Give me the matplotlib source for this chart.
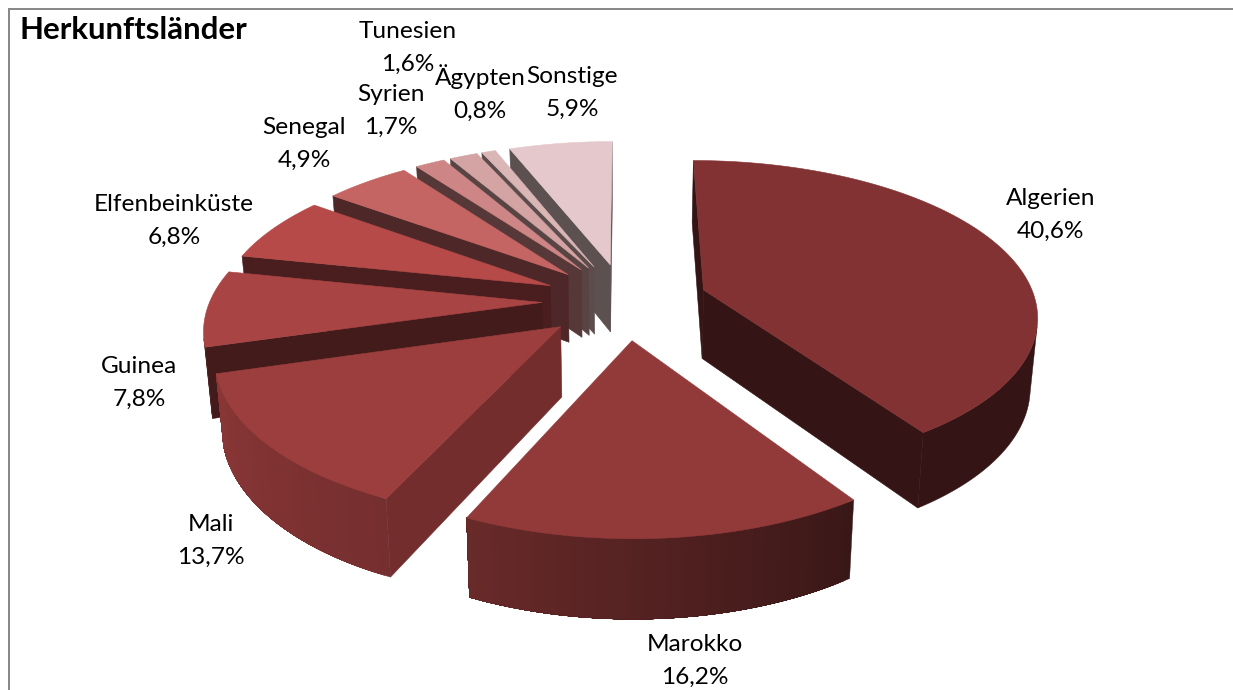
import numpy as np
import matplotlib
matplotlib.use("Agg")
import matplotlib.pyplot as plt
from matplotlib.patches import Polygon

countries = ["Algerien", "Marokko", "Mali", "Guinea", "Elfenbeinküste",
             "Senegal", "Syrien", "Tunesien", "Ägypten", "Sonstige"]
shares = [40.6, 16.2, 13.7, 7.8, 6.8, 4.9, 1.7, 1.6, 0.8, 5.9]
title = "Herkunftsländer"

# styles
top_colors = ["#823232", "#923a3a", "#9d3e3e", "#a84444", "#b54a48",
              "#c46563", "#ce8585", "#d4a3a3", "#dbb6b6", "#e5c8cb"]
wall_shade = [0.40, 0.40, 0.73, 0.40, 0.41, 0.40, 0.42, 0.42, 0.42, 0.40]
arc_shade = [(0.40, 0.40), (0.40, 0.72), (0.75, 0.88), (0.42, 0.42), (0.41, 0.41),
             (0.40, 0.40), (0.42, 0.42), (0.42, 0.42), (0.42, 0.42), (0.40, 0.40)]
draw_order = [0, 9, 8, 7, 6, 5, 4, 3, 2, 1]
label_pos = [(1051, 215), (695, 661), (211, 541), (139, 383), (174, 221),
             (304, 144), (391, 111), (408, 48), (480, 93), (572, 93)]
EXPLODE = 0.25
CX, CY, A, B, K, KX, D = 625, 301, 332, 153, 0.157, 0.15, 69

def project(X, Y, z):
    w = 1 + K * Y
    sx = CX + (A * X / (1 + KX * Y)) * (1 - 0.018 * z)
    sy = CY - B * Y / w + z * D / w ** 0.7
    return np.column_stack([sx, sy])

def shaded(color, f):
    return tuple(c * f for c in matplotlib.colors.to_rgb(color))

def signed_area(q):
    x, y = q[:, 0], q[:, 1]
    return np.sum(x * np.roll(y, -1) - np.roll(x, -1) * y)

fig = plt.figure(figsize=(12.33, 6.9), dpi=100, facecolor="white")
ax = fig.add_axes([0, 0, 1, 1])
ax.set_xlim(0, 1233)
ax.set_ylim(690, 0)
ax.axis("off")

edges = np.concatenate([[0], np.cumsum(shares)]) / np.sum(shares) * 2 * np.pi

for i in draw_order:
    t1, t2 = edges[i], edges[i + 1]
    mid = (t1 + t2) / 2
    X0, Y0 = EXPLODE * np.sin(mid), EXPLODE * np.cos(mid)
    th = np.linspace(t1, t2, max(int((t2 - t1) * 60), 6))
    X = X0 + np.sin(th)
    Y = Y0 + np.cos(th)
    top = project(X, Y, 0 * th)
    bot = project(X, Y, 0 * th + 1)
    ap_top = project(np.array([X0]), np.array([Y0]), np.array([0.0]))[0]
    ap_bot = project(np.array([X0]), np.array([Y0]), np.array([1.0]))[0]
    col = top_colors[i]
    wc = shaded(col, wall_shade[i])
    walls = [np.array([ap_top, top[0], bot[0], ap_bot]),
             np.array([top[-1], ap_top, ap_bot, bot[-1]])]
    for q in walls:
        if signed_area(q) < 0:
            ax.add_patch(Polygon(q, closed=True, fc=wc, ec=wc, lw=0.4))
    vis = [j for j in range(len(th) - 1)
           if signed_area(np.array([top[j], top[j + 1], bot[j + 1], bot[j]])) < 0]
    if vis:
        last = vis[-1] + 1
        flat = arc_shade[i][0] == arc_shade[i][1]
        for j in (vis[:1] if flat else vis):
            q = np.vstack([top[j:last + 1], bot[j:last + 1][::-1]])
            f = np.interp(j / (len(th) - 2), [0, 1], arc_shade[i])
            c = shaded(col, f)
            ax.add_patch(Polygon(q, closed=True, fc=c, ec=c, lw=0.3))
    ax.add_patch(Polygon(np.vstack([ap_top, top]), closed=True, fc=col, ec=col, lw=0.4))

for name, val, (x, y) in zip(countries, shares, label_pos):
    ax.text(x, y, f"{name}\n{val:.1f}%".replace(".", ","), ha="center", va="center",
            family="Lato", fontsize=17.6, linespacing=1.72, color="black")

ax.text(19, 30, title, ha="left", va="center", family="Lato", fontweight="bold",
        fontsize=22.4, color="black")

ax.plot([9, 9, 1233], [690, 8.5, 8.5], color="#868686", lw=1.4, solid_joinstyle="miter")

fig.savefig("out.png", dpi=100, facecolor="white")
